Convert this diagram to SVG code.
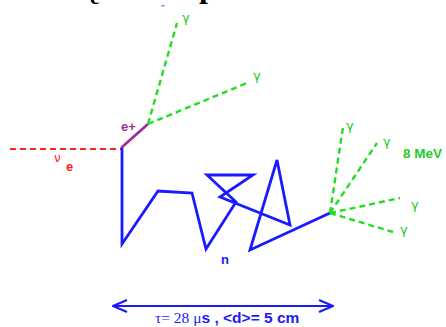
<svg xmlns="http://www.w3.org/2000/svg" width="446" height="327" viewBox="0 0 446 327">
<style>
.nu{stroke:#ff2020;stroke-width:2.2;stroke-dasharray:6 4;fill:none}
.gam{stroke:#22dd22;stroke-width:2.4;stroke-dasharray:6 4;fill:none}
.trk{stroke:#1a1aff;stroke-width:2.8;fill:none;stroke-linejoin:miter}
.pos{stroke:#993399;stroke-width:2.8;fill:none}
.gl{fill:#22cc22;font-family:"DejaVu Sans",sans-serif;font-size:13px}
.lab{font-family:"Liberation Sans",Arial,sans-serif;font-weight:bold}
</style>
<defs>
<marker id="ah" viewBox="0 0 16 14" refX="15" refY="7" markerWidth="16" markerHeight="14" markerUnits="userSpaceOnUse" orient="auto-start-reverse">
<path d="M1,1 L15,7 L1,13" fill="none" stroke="#1a1aff" stroke-width="2.2"/>
</marker>
</defs>
<rect width="446" height="327" fill="#ffffff"/>
<g id="title">
<text x="90" y="4" font-family="Liberation Serif,serif" font-weight="bold" font-size="22" fill="#000">e</text>
<text x="199" y="-3" font-family="Liberation Serif,serif" font-weight="bold" font-size="32" fill="#000">p</text>
<rect x="161" y="5" width="4" height="1.5" fill="#9999ff"/>
</g>
<g id="connectors">
<line id="neutrino" class="nu" x1="10" y1="149" x2="121" y2="149"/>
<line id="positron" class="pos" x1="121" y1="148" x2="148" y2="124"/>
<polyline id="neutron" class="trk" points="122,148 122,244 158,191 192,193 206,249 236,202 207,175 253,175 220,197 290,225 277,160 250,250 330,213"/>
<line class="gam" x1="148" y1="124" x2="177" y2="23"/>
<line class="gam" x1="148" y1="124" x2="247" y2="83"/>
<line class="gam" x1="330" y1="213" x2="343" y2="127"/>
<line class="gam" x1="330" y1="213" x2="377" y2="143"/>
<line class="gam" x1="330" y1="213" x2="400" y2="198"/>
<line class="gam" x1="330" y1="213" x2="393" y2="232"/>
<line id="scale" x1="113" y1="306" x2="333" y2="306" stroke="#1a1aff" stroke-width="2.2" marker-start="url(#ah)" marker-end="url(#ah)"/>
</g>
<g id="labels">
<text x="54" y="162" fill="#ff2020" font-family="DejaVu Sans,sans-serif" font-size="12">ν</text>
<text x="66" y="171" class="lab" fill="#ff2020" font-size="13">e</text>
<text x="121" y="131" class="lab" fill="#993399" font-size="13">e+</text>
<text x="182" y="22" class="gl">γ</text>
<text x="253" y="80" class="gl">γ</text>
<text x="346" y="130" class="gl">γ</text>
<text x="383" y="146" class="gl">γ</text>
<text x="411" y="209" class="gl">γ</text>
<text x="400" y="234" class="gl">γ</text>
<text x="403" y="158" class="lab" fill="#22cc22" font-size="13.5">8 MeV</text>
<text x="221" y="264" class="lab" fill="#1a1aff" font-size="13">n</text>
<text x="155" y="323" fill="#1a1aff" font-size="15.5"><tspan font-family="Liberation Serif,serif">τ= 28 μ</tspan><tspan font-family="Liberation Sans,Arial,sans-serif" font-weight="bold">s , &lt;d&gt;= 5 cm</tspan></text>
</g>
</svg>
